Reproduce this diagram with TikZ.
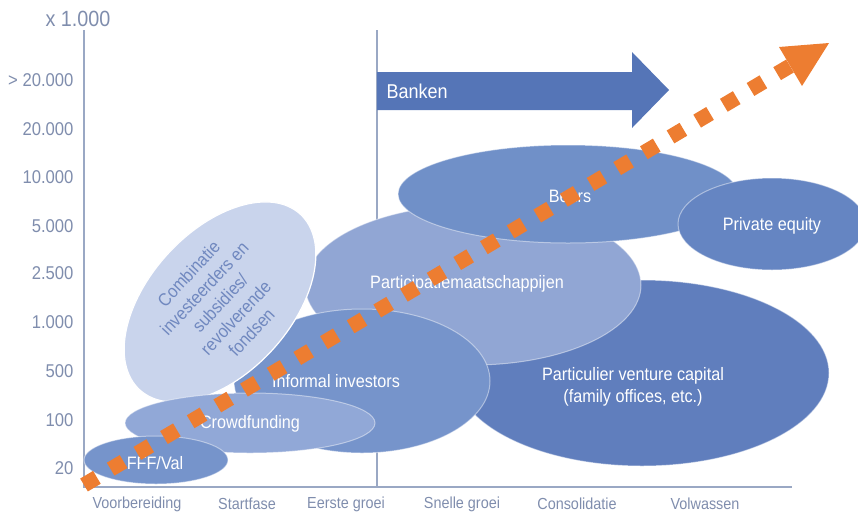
\documentclass[tikz,border=0pt]{standalone}
\usepackage{fontspec}
\setmainfont{Liberation Sans}[FakeStretch=0.9]
\definecolor{axisc}{HTML}{9AA8C4}
\definecolor{labc}{HTML}{7F8DAD}
\definecolor{pvcc}{HTML}{607EBD}
\definecolor{pec}{HTML}{6585C2}
\definecolor{beursc}{HTML}{7090C8}
\definecolor{partc}{HTML}{91A6D4}
\definecolor{infc}{HTML}{7694CB}
\definecolor{combic}{HTML}{C9D4EC}
\definecolor{combitext}{HTML}{7088BF}
\definecolor{crowdc}{HTML}{91A8D7}
\definecolor{fffc}{HTML}{7694CB}
\definecolor{bankc}{HTML}{5575B7}
\definecolor{orangec}{HTML}{ED7D31}
\tikzset{
  xlab/.style={text=labc, font=\fontsize{16}{18}\selectfont},
  ylab/.style={text=labc, anchor=east, font=\fontsize{18.5}{20}\selectfont},
  intext/.style={text=white, font=\fontsize{18}{22}\selectfont, align=center},
  blob/.style={draw=white, draw opacity=0.45, line width=1pt},
  axisline/.style={draw=axisc, line width=1.6pt},
}
\begin{document}
\begin{tikzpicture}[x=1pt,y=-1pt]
\useasboundingbox (0,0) rectangle (858,512);
% axes
\coordinate (ytop) at (84,30);
\coordinate (orig) at (84,487);
\coordinate (xend) at (792,487);
\coordinate (vtop) at (377,30);
\coordinate (vbot) at (377,487);
\draw[axisline] (ytop) -- (orig) -- (xend);
\draw[axisline] (vtop) -- (vbot);
% axis labels
\node[text=labc, font=\fontsize{22}{24}\selectfont] (unit) at (78,19) {x 1.000};
\node[ylab] (y1) at (77,80) {> 20.000};
\node[ylab] (y2) at (77,129) {20.000};
\node[ylab] (y3) at (77,177) {10.000};
\node[ylab] (y4) at (77,226) {5.000};
\node[ylab] (y5) at (77,273) {2.500};
\node[ylab] (y6) at (77,322) {1.000};
\node[ylab] (y7) at (77,371) {500};
\node[ylab] (y8) at (77,420) {100};
\node[ylab] (y9) at (77,468) {20};
\node[xlab] (x1) at (137,504) {Voorbereiding};
\node[xlab] (x2) at (247,504) {Startfase};
\node[xlab] (x3) at (346,504) {Eerste groei};
\node[xlab] (x4) at (462,504) {Snelle groei};
\node[xlab] (x5) at (577,504) {Consolidatie};
\node[xlab] (x6) at (705,504) {Volwassen};
% Banken arrow
\fill[bankc] (377,72) -- (632,72) -- (632,52) -- (669,90) -- (632,128) -- (632,110) -- (377,110) -- cycle;
\node[text=white, anchor=west, font=\fontsize{20}{22}\selectfont] (banken) at (383,91) {Banken};
% ellipses
\fill[pvcc, blob] (642,373) ellipse [x radius=187pt, y radius=93pt];
\fill[partc, blob] (473,285) ellipse [x radius=168pt, y radius=80pt];
\fill[beursc, blob] (568,194) ellipse [x radius=170pt, y radius=49pt];
\fill[pec, blob] (772,224) ellipse [x radius=94pt, y radius=46pt];
\fill[infc, blob] (362,381) ellipse [x radius=128pt, y radius=72pt];
\begin{scope}[shift={(220,302)}, rotate=47.6]
\fill[combic, draw=white, line width=1.2pt] (0,0) ellipse [x radius=119pt, y radius=71pt];
\end{scope}
\fill[crowdc, blob] (250,423) ellipse [x radius=125pt, y radius=30pt];
\fill[fffc, blob] (156,460) ellipse [x radius=72pt, y radius=24pt];
% texts
\node[intext] (beurs) at (570,196) {Beurs};
\node[intext] (pe) at (772,226) {Private equity};
\node[intext] (part) at (467,284) {Participatiemaatschappijen};
\node[intext] (pvc) at (633,387) {Particulier venture capital\\(family offices, etc.)};
\node[intext] (inf) at (336,381) {Informal investors};
\node[intext] (crowd) at (250,424) {Crowdfunding};
\node[intext] (fff) at (155,463) {FFF/Val};
\node[text=combitext, rotate=47, align=center, font=\fontsize{18}{21.5}\selectfont] (combi) at (220,303)
  {Combinatie\\investeerders en\\subsidies/\\revolverende\\fondsen};
% orange dotted arrow
\coordinate (os) at (84,485);
\coordinate (oe) at (790,66);
\draw[orangec, line width=15pt, dash pattern=on 15pt off 16pt] (os) -- (oe);
\fill[orangec] (829,43) -- (779,47) -- (802,86) -- cycle;
\end{tikzpicture}
\end{document}
